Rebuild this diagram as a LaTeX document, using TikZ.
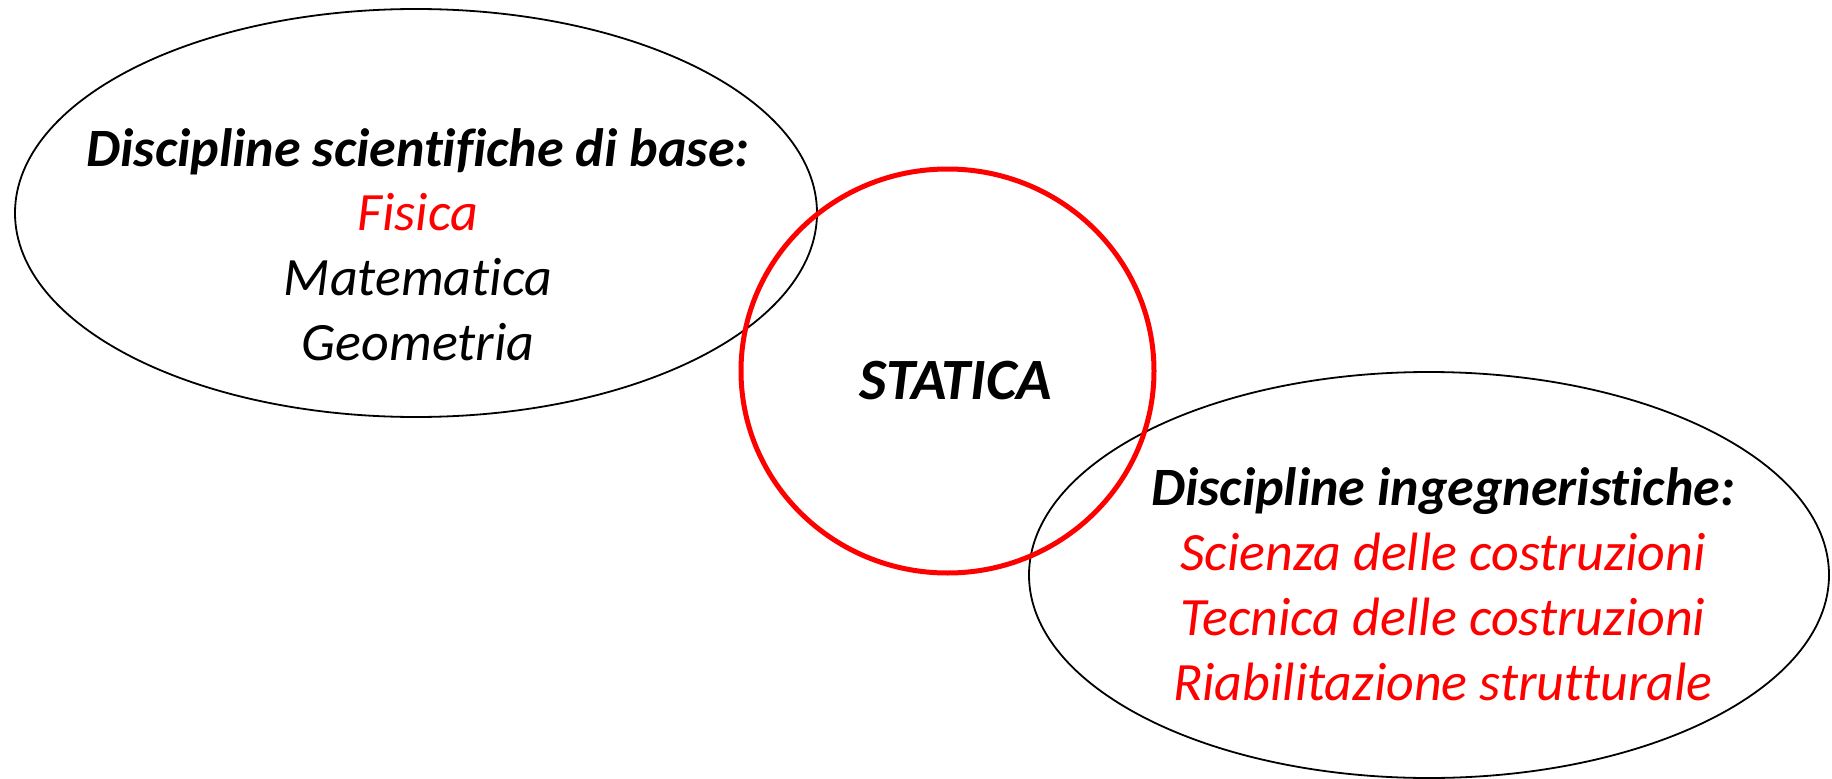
\documentclass[tikz,border=0pt]{standalone}
\usepackage{fontspec}
\setmainfont{Carlito}[Ligatures={NoCommon}]
\usetikzlibrary{shapes.geometric}
\definecolor{pured}{RGB}{255,0,0}
\tikzset{
  blackoval/.style={draw=black, line width=1.8pt},
  redoval/.style={draw=pured, line width=5pt},
  txt/.style={anchor=base, inner sep=0pt, font=\fontsize{54}{65}\selectfont\itshape},
  head/.style={txt, font=\fontsize{54}{65}\selectfont\bfseries\itshape},
  redtxt/.style={txt, text=pured}
}
\begin{document}
\begin{tikzpicture}[x=1pt, y=-1pt]
\useasboundingbox (0,0) rectangle (1832,779);
\draw[blackoval] (416,213) ellipse [x radius=401, y radius=204];
\draw[blackoval] (1429,575) ellipse [x radius=400, y radius=203];
\draw[redoval] (947.5,371) ellipse [x radius=206.5, y radius=202];
\node[head] (h1) at (418,166) {Discipline scientifiche di base:};
\node[redtxt] (fis) at (418,230.5) {Fisica};
\node[txt] (mat) at (418,295) {Matematica};
\node[txt] (geo) at (418,360) {Geometria};
\node[head, font=\fontsize{58.5}{65}\selectfont\bfseries\itshape] (stat) at (956,399) {STATICA};
\node[head] (h2) at (1443,505) {Discipline ingegneristiche:};
\node[redtxt] (sc) at (1443,570) {Scienza delle costruzioni};
\node[redtxt] (tc) at (1443,635) {Tecnica delle costruzioni};
\node[redtxt] (rs) at (1443,700) {Riabilitazione strutturale};
\end{tikzpicture}
\end{document}
